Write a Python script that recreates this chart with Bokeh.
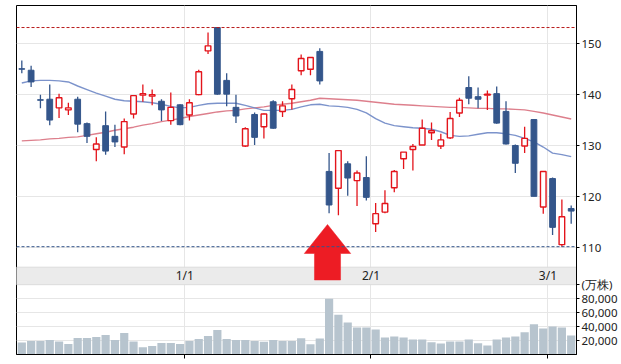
import numpy as np
from bokeh.plotting import figure
from bokeh.models import (Range1d, LinearAxis, FixedTicker, Span, Grid,
                          CustomJSTickFormatter)
from bokeh.core.properties import value
from bokeh.embed import file_html
from bokeh.resources import INLINE

# ---------------- data ----------------
opens = [145.1, 144.8, 139.0, 139.1, 137.4, 137.0, 139.1, 134.3, 129.2, 133.9,
         131.8, 129.7, 136.2, 139.9, 139.7, 138.7, 134.9, 138.0, 136.0, 140.0,
         148.6, 153.2, 142.8, 137.5, 129.9, 136.1, 133.7, 138.6, 136.7, 139.2,
         144.7, 145.0, 148.5, 124.9, 121.6, 126.4, 123.1, 123.7, 114.6, 116.9,
         121.7, 127.4, 129.2, 130.1, 132.5, 129.9, 131.5, 136.4, 141.4, 139.6,
         139.9, 140.2, 136.7, 130.0, 129.9, 135.1, 117.9, 123.5, 110.5, 117.6]
highs = [146.7, 145.7, 140.0, 142.0, 140.2, 138.4, 139.6, 134.5, 131.6, 136.7,
         134.1, 135.3, 139.8, 142.0, 141.0, 139.1, 140.4, 138.1, 139.1, 144.9,
         152.2, 153.2, 144.2, 140.0, 133.6, 136.5, 136.3, 138.9, 138.7, 142.0,
         147.9, 147.3, 149.1, 128.5, 129.0, 126.9, 125.1, 127.9, 118.7, 121.2,
         125.2, 128.7, 130.3, 135.1, 134.5, 132.3, 136.6, 139.4, 143.6, 141.4,
         140.8, 141.6, 138.7, 130.2, 133.7, 135.1, 125.0, 123.7, 119.4, 118.2]
lows = [144.2, 141.5, 137.3, 134.0, 135.4, 136.0, 132.6, 130.5, 126.9, 128.2,
        129.7, 128.3, 135.3, 138.6, 137.9, 134.8, 134.1, 134.0, 134.9, 139.9,
        148.0, 140.0, 137.7, 134.4, 129.7, 130.1, 131.4, 133.3, 135.6, 137.1,
        143.8, 143.8, 142.0, 116.7, 116.3, 120.1, 118.1, 119.2, 113.0, 116.7,
        120.8, 125.4, 125.1, 130.1, 131.1, 129.3, 131.3, 135.6, 138.1, 137.3,
        137.0, 134.3, 130.2, 124.6, 128.5, 120.0, 116.6, 112.4, 110.1, 114.6]
closes = [145.0, 142.5, 138.9, 135.0, 139.4, 137.4, 134.2, 131.8, 130.3, 128.9,
          130.7, 134.7, 139.8, 140.2, 140.0, 137.0, 137.5, 134.1, 138.4, 144.5,
          149.6, 140.1, 140.1, 135.8, 133.3, 131.6, 136.2, 133.4, 137.8, 141.0,
          147.1, 147.3, 142.7, 118.3, 129.0, 123.6, 124.6, 119.8, 116.6, 118.6,
          124.9, 128.7, 129.8, 133.4, 132.9, 131.1, 135.3, 138.9, 139.3, 139.1,
          140.1, 134.4, 130.3, 126.5, 131.4, 120.0, 124.9, 113.9, 116.0, 117.1]
volumes = [17100, 19400, 19400, 20900, 18600, 15200, 23700, 23700, 25100, 28000,
           20900, 30900, 18600, 10400, 12300, 16600, 16600, 15200, 19400, 22300,
           26600, 35200, 22300, 20900, 20900, 19400, 18100, 20900, 19400, 19400,
           23300, 14800, 22900, 80000, 57100, 45700, 38600, 38600, 35700, 24300,
           25700, 24300, 21400, 21400, 17600, 15700, 18600, 18600, 21400, 16100,
           12900, 21400, 24300, 25700, 31900, 43300, 37100, 40000, 38600, 27100]
ma_short = [142.3, 142.7, 142.8, 142.8, 142.7, 142.5, 141.7, 141.0, 140.3, 139.7,
            139.1, 138.8, 138.7, 138.6, 138.4, 138.1, 137.7, 137.4, 137.5, 137.9,
            138.2, 138.3, 138.3, 138.3, 137.9, 137.4, 136.9, 136.9, 136.9, 137.1,
            137.6, 138.0, 138.1, 137.8, 137.7, 137.5, 137.1, 136.4, 135.3, 134.4,
            133.9, 133.7, 133.5, 133.4, 133.2, 132.7, 132.0, 131.8, 131.9, 132.2,
            132.5, 132.5, 132.3, 132.0, 131.4, 130.7, 129.7, 128.5, 128.2, 127.8]
ma_long = [130.9, 131.0, 131.1, 131.3, 131.4, 131.6, 131.7, 132.0, 132.3, 132.6,
           133.0, 133.3, 133.6, 134.0, 134.3, 134.7, 135.0, 135.3, 135.7, 136.0,
           136.3, 136.6, 136.8, 136.9, 137.2, 137.4, 137.6, 137.9, 138.1, 138.3,
           138.6, 138.9, 139.3, 139.2, 139.1, 139.0, 138.9, 138.7, 138.5, 138.3,
           138.1, 138.0, 137.9, 137.8, 137.7, 137.6, 137.5, 137.5, 137.4, 137.3,
           137.3, 137.2, 137.2, 137.1, 137.0, 136.7, 136.4, 136.0, 135.6, 135.2]
month_start_idx = [18, 38, 57]
month_labels = ["1/1", "2/1", "3/1"]
price_ticks = [110, 120, 130, 140, 150]
volume_ticks = [20000, 40000, 60000, 80000]
volume_unit_tick = 100000
volume_unit_label = "(万株)"
arrow_idx = 33

# ---------------- layout constants ----------------
n = len(opens)
idx = np.arange(n)
XPAD = 0.57
P_LO, P_HI = 88.9, 157.53          # price range spanning the full frame
V_MAX = 500000                      # volume range spanning the full frame


def vol_to_price(v):
    return P_LO + v / V_MAX * (P_HI - P_LO)


BAND_LO = vol_to_price(volume_unit_tick)
BAND_HI = 106.07

RED = "#E3141B"
BLUE = "#34568B"

p = figure(frame_width=560, frame_height=349,
           x_range=Range1d(-XPAD, n - 1 + XPAD),
           y_range=Range1d(P_LO, P_HI),
           output_backend="svg", toolbar_location=None,
           x_axis_location=None, y_axis_location=None,
           min_border_left=16, min_border_right=45,
           min_border_top=5, min_border_bottom=6,
           background_fill_color="white", border_fill_color="white")
p.extra_y_ranges = {"vol": Range1d(0, V_MAX)}
p.outline_line_color = "black"
p.outline_line_width = 1
for g in p.grid:
    g.visible = False

# grids
xg = Grid(dimension=0, ticker=FixedTicker(ticks=[m - 0.5 for m in month_start_idx]),
          grid_line_color="#E6E6E6", grid_line_width=1)
yg = Grid(dimension=1,
          ticker=FixedTicker(ticks=price_ticks + [vol_to_price(v) for v in volume_ticks]),
          grid_line_color="#E6E6E6", grid_line_width=1)
p.add_layout(xg, "center")
p.add_layout(yg, "center")

# volume bars
p.vbar(x=idx, top=volumes, bottom=0, width=0.88, y_range_name="vol",
       fill_color="#B7C4CE", line_color=None)

# moving averages (beneath candles)
p.line(idx, ma_long, line_color="#D9717F", line_width=1.4, line_alpha=0.9)
p.line(idx, ma_short, line_color="#6E87C5", line_width=1.4, line_alpha=0.9)

# candles
o = np.array(opens); h = np.array(highs); l = np.array(lows); c = np.array(closes)
up = c >= o
dn = ~up
p.segment(x0=idx[up], y0=h[up], x1=idx[up], y1=l[up], line_color=RED, line_width=1.3)
p.segment(x0=idx[dn], y0=h[dn], x1=idx[dn], y1=l[dn], line_color=BLUE, line_width=1.3)
p.vbar(x=idx[up], top=c[up], bottom=o[up], width=0.6,
       fill_color="white", line_color=RED, line_width=1.4)
p.vbar(x=idx[dn], top=o[dn], bottom=c[dn], width=0.62,
       fill_color=BLUE, line_color=BLUE, line_width=1)

# high / low reference lines
p.add_layout(Span(location=max(highs), dimension="width", line_color="#B81C1C",
                  line_dash="3 2", line_width=1))
p.add_layout(Span(location=min(lows), dimension="width", line_color=BLUE,
                  line_dash="3 2", line_width=1))

# date band between panels
p.quad(left=-XPAD, right=n - 1 + XPAD, bottom=BAND_LO, top=BAND_HI,
       fill_color="#EBEBEB", line_color="#DCDCDC", line_width=1)
p.text(x=[m - 0.5 for m in month_start_idx], y=[(BAND_LO + BAND_HI) / 2] * len(month_labels),
       text=month_labels, text_font=value("Noto Sans"), text_font_size="12px",
       text_color="#222222", text_align="center", text_baseline="middle")

# red arrow annotation under the big-volume candle
ax = arrow_idx - 0.17
tip, base, bottom = 114.46, 108.76, 103.55
hw, sw = 2.49, 1.4
p.patch([ax, ax + hw, ax + sw, ax + sw, ax - sw, ax - sw, ax - hw],
        [tip, base, base, bottom, bottom, base, base],
        fill_color="#ED1C24", line_color="#ED1C24", line_width=0.5)

# right axis: price ticks plus volume ticks (mapped into price space)
right_ticks = price_ticks + [vol_to_price(v) for v in volume_ticks + [volume_unit_tick]]
fmt = CustomJSTickFormatter(code=f"""
if (tick > 108) {{ return tick.toFixed(0); }}
const v = Math.round((tick - {P_LO}) / ({P_HI} - {P_LO}) * {V_MAX} / 1000) * 1000;
if (v == {volume_unit_tick}) {{ return "{volume_unit_label}"; }}
return v.toLocaleString("en-US");
""")
ra = LinearAxis(ticker=FixedTicker(ticks=right_ticks), formatter=fmt,
                major_tick_out=3, major_tick_in=0, minor_tick_out=0, minor_tick_in=0,
                major_label_standoff=2, axis_line_color="black", major_tick_line_color="black",
                major_label_text_font="Noto Sans", major_label_text_font_size="11.5px",
                major_label_text_color="#222222")
p.add_layout(ra, "right")

# bottom axis: only month-boundary tick marks (no labels)
ba = LinearAxis(ticker=FixedTicker(ticks=[m - 0.5 for m in month_start_idx]),
                major_tick_out=4, major_tick_in=0, minor_tick_out=0, minor_tick_in=0,
                major_label_text_alpha=0, major_label_text_font_size="1px",
                major_label_standoff=0,
                axis_line_color="black", major_tick_line_color="black")
ba.major_label_overrides = {m - 0.5: "" for m in month_start_idx}
p.add_layout(ba, "below")

open("out.html", "w").write(file_html(p, INLINE))
